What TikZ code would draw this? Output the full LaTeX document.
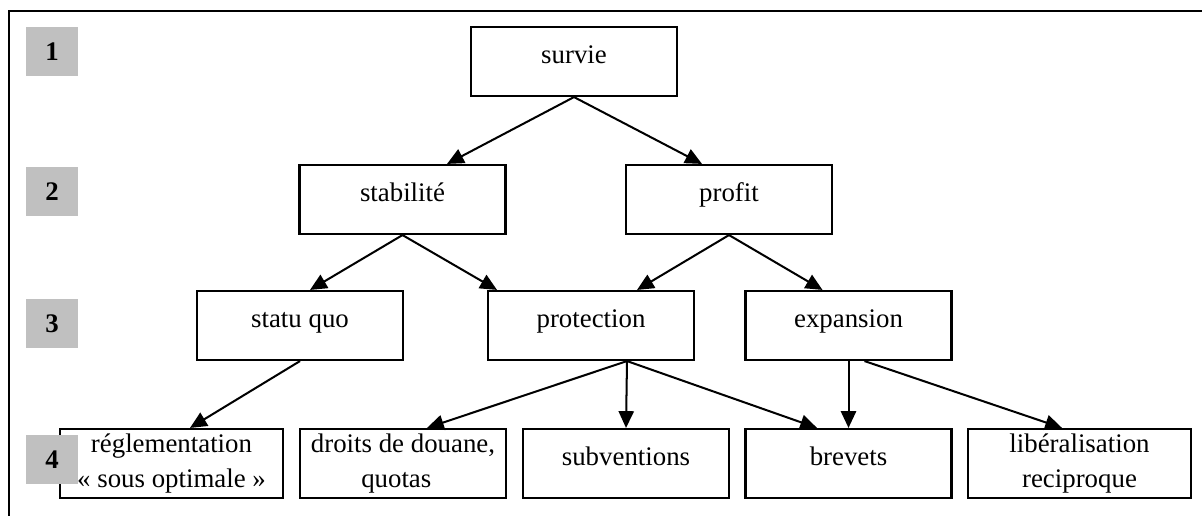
\documentclass[tikz,border=0pt]{standalone}
\usepackage{fontspec}
\setmainfont{Liberation Serif}
\usepackage{xcolor}
\usetikzlibrary{arrows.meta, calc}
\definecolor{lvlgray}{HTML}{C0C0C0}

\tikzset{
  box/.style={draw, line width=1pt, minimum width=92.1pt, minimum height=30.8pt,
    inner sep=2pt, align=center, font=\fontsize{12}{15.6}\selectfont},
  onebox/.style={box, text height=8pt, text depth=6.6pt},
  widebox/.style={box, minimum width=99.7pt},
  lvl/.style={fill=lvlgray, minimum width=23.2pt, minimum height=21.9pt, inner sep=0pt,
    font=\fontsize{12}{14}\selectfont\bfseries},
  arr/.style={line width=0.9pt, -{Triangle[length=7.5pt, width=6.8pt]}}
}

\begin{document}
\begin{tikzpicture}[x=0.447pt, y=-0.447pt]
\useasboundingbox (0,0) rectangle (1202,516);
\draw[line width=1.2pt] (9,516) -- (9,11) -- (1202,11);
\node[onebox] (survie) at (574,61.5) {survie};
\node[onebox] (stab) at (402.5,199.5) {stabilité};
\node[onebox] (profit) at (729,199.5) {profit};
\node[onebox] (statu) at (300,325.5) {statu quo};
\node[onebox] (protect) at (591,325.5) {protection};
\node[onebox] (expans) at (848.5,325.5) {expansion};
\node[widebox] (regl) at (171.5,463.5) {réglementation\\« sous optimale »};
\node[box] (droits) at (403,463.5) {droits de douane,\\quotas\hspace*{6pt}};
\node[onebox] (subv) at (626,463.5) {subventions};
\node[onebox] (brev) at (848.5,463.5) {brevets};
\node[widebox] (liber) at (1079.5,463.5) {libéralisation\\reciproque};
\node[lvl] (lvl1) at (52,51.5) {1};
\node[lvl] (lvl2) at (52,191.5) {2};
\node[lvl] (lvl3) at (52,323.5) {3};
\node[lvl] (lvl4) at (52,459.5) {4};
\draw[arr] (survie.south) -- ($(stab.north)+(44.5,0)$);
\draw[arr] (survie.south) -- ($(profit.north)+(-27,0)$);
\draw[arr] (stab.south) -- ($(statu.north)+(10,0)$);
\draw[arr] (stab.south) -- ($(protect.north)+(-94,0)$);
\draw[arr] (profit.south) -- ($(protect.north)+(46,0)$);
\draw[arr] (profit.south) -- ($(expans.north)+(-26,0)$);
\draw[arr] (statu.south) -- ($(regl.north)+(18.5,0)$);
\draw[arr] ($(protect.south)+(36,0)$) -- ($(droits.north)+(24,0)$);
\draw[arr] ($(protect.south)+(36,0)$) -- (subv.north);
\draw[arr] ($(protect.south)+(36,0)$) -- ($(brev.north)+(-31.5,0)$);
\draw[arr] (expans.south) -- (brev.north);
\draw[arr] ($(expans.south)+(16,0)$) -- ($(liber.north)+(-17.5,0)$);
\end{tikzpicture}
\end{document}
